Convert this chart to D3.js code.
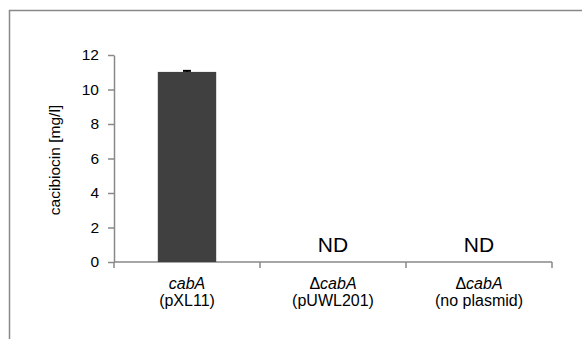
<!DOCTYPE html>
<html><head><meta charset="utf-8">
<script src="https://cdn.jsdelivr.net/npm/d3@7"></script>
<style>body{margin:0;background:#fff}svg{display:block;font-family:"Liberation Sans",Arial,sans-serif}</style>
</head><body>
<svg id="c" width="582" height="339"></svg>
<script>
const categories = ["cabA (pXL11)", "ΔcabA (pUWL201)", "ΔcabA (no plasmid)"];
const labelPrefix = ["", "Δ", "Δ"];
const labelGene = ["cabA", "cabA", "cabA"];
const labelPlasmid = ["(pXL11)", "(pUWL201)", "(no plasmid)"];
const values = [11.02, null, null];
const errors = [0.06, null, null];
const notDetected = ["", "ND", "ND"];
const yTicks = [0, 2, 4, 6, 8, 10, 12];
const yLabel = "cacibiocin [mg/l]";

const svg = d3.select("#c");
const gray = "#898989";
svg.append("rect").attr("x", 9.5).attr("y", 10.5).attr("width", 700).attr("height", 500)
  .attr("fill", "none").attr("stroke", gray).attr("stroke-width", 1.5);

const x = d3.scaleBand().domain(categories).range([114, 552]).paddingInner(0.6).paddingOuter(0.3);
const y = d3.scaleLinear().domain([0, 12]).range([262, 55]);

// y axis
const ya = svg.append("g").attr("transform", "translate(114,0)")
  .call(d3.axisLeft(y).tickValues(yTicks).tickSize(6).tickPadding(9).tickSizeOuter(0));
ya.select(".domain").attr("stroke", gray).attr("stroke-width", 1.5);
ya.selectAll(".tick line").attr("stroke", gray).attr("stroke-width", 1.5);
ya.selectAll(".tick text").attr("font-size", 15.5).attr("font-family", "Liberation Sans, Arial, sans-serif").attr("fill", "#000");

// x axis line and boundary ticks
const step = x.step();
const bounds = [0, 1, 2, 3].map(i => x.range()[0] + i * step);
svg.append("line").attr("x1", x.range()[0]).attr("x2", x.range()[1]).attr("y1", y(0)).attr("y2", y(0))
  .attr("stroke", gray).attr("stroke-width", 1.5);
svg.selectAll(".xt").data(bounds).enter().append("line")
  .attr("x1", d => d).attr("x2", d => d).attr("y1", y(0)).attr("y2", y(0) + 6)
  .attr("stroke", gray).attr("stroke-width", 1.5);

// bars
const bd = categories.map((c, i) => ({c, v: values[i], e: errors[i], nd: notDetected[i]}));
svg.selectAll(".bar").data(bd.filter(d => d.v != null)).enter().append("rect")
  .attr("x", d => x(d.c)).attr("width", x.bandwidth())
  .attr("y", d => y(d.v)).attr("height", d => y(0) - y(d.v)).attr("fill", "#404040");
// error bars
bd.filter(d => d.e != null).forEach(d => {
  const cx = x(d.c) + x.bandwidth() / 2;
  svg.append("line").attr("x1", cx).attr("x2", cx).attr("y1", y(d.v + d.e)).attr("y2", y(d.v))
    .attr("stroke", "#000").attr("stroke-width", 1.5);
  svg.append("line").attr("x1", cx - 4).attr("x2", cx + 4).attr("y1", y(d.v + d.e)).attr("y2", y(d.v + d.e))
    .attr("stroke", "#000").attr("stroke-width", 2);
});
// ND labels
svg.selectAll(".nd").data(bd.filter(d => d.nd)).enter().append("text")
  .attr("x", d => x(d.c) + x.bandwidth() / 2).attr("y", 252)
  .attr("text-anchor", "middle").attr("font-size", 21).text(d => d.nd);

// category labels
categories.forEach((c, i) => {
  const cx = x(c) + x.bandwidth() / 2;
  const t = svg.append("text").attr("x", cx).attr("y", 289).attr("text-anchor", "middle").attr("font-size", 16);
  if (labelPrefix[i]) t.append("tspan").text(labelPrefix[i]);
  t.append("tspan").attr("font-style", "italic").text(labelGene[i]);
  svg.append("text").attr("x", cx).attr("y", 306).attr("text-anchor", "middle").attr("font-size", 16).text(labelPlasmid[i]);
});

// y label
svg.append("text").attr("transform", "translate(60,160) rotate(-90)")
  .attr("text-anchor", "middle").attr("font-size", 15.5).text(yLabel);
</script>
</body></html>
